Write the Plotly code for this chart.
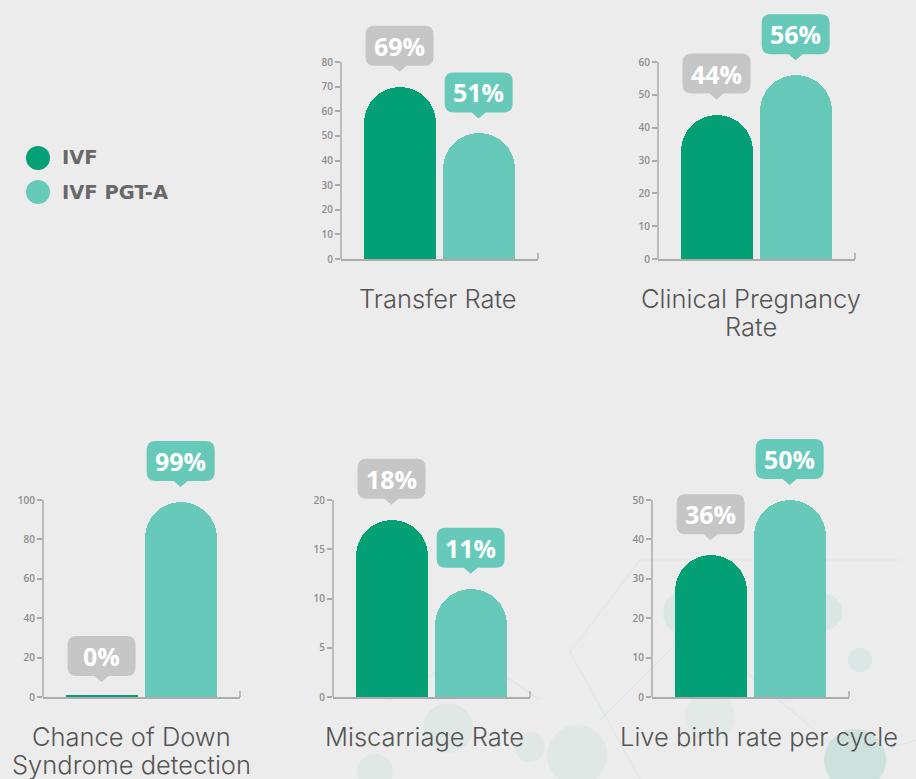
import plotly.graph_objects as go

# ---------------- data ----------------
series_names = ["IVF", "IVF PGT-A"]
panel_titles = ["Transfer Rate", "Clinical Pregnancy<br>Rate",
                "Chance of Down<br>Syndrome detection", "Miscarriage Rate",
                "Live birth rate per cycle"]
ivf_values = [70, 44, 0, 18, 36]
pgta_values = [51, 56, 99, 11, 50]
ivf_labels = ["69%", "44%", "0%", "18%", "36%"]
pgta_labels = ["51%", "56%", "99%", "11%", "50%"]
axis_max = [80, 60, 100, 20, 50]
axis_step = [10, 10, 20, 5, 10]

# ---------------- style ----------------
W, H = 916, 779
BG = "#ececec"
C_IVF = "#03a075"
C_PGT = "#67c9b9"
C_CALL_IVF = "#c6c6c6"
C_CALL_PGT = "#67c9b9"
AXC = "#ababab"
TITLE_FONT = dict(family="Inter, Open Sans, sans-serif", size=25.5, color="#555555", weight=300)

# panel pixel boxes: (x0, x1, ytop of axis, ybottom of axis)
boxes = [(341, 538, 62, 259), (658, 855, 62, 259),
         (43, 240, 500, 697), (333, 530, 500, 697), (652, 849, 500, 697)]
title_dx = [-2, -6, -10, -7, 8]  # title centre offset from panel centre (px)
HEADROOM = 62  # extra plot area above each axis so callouts are not clipped

fig = go.Figure()
layout = dict(width=W, height=H, autosize=False,
              margin=dict(l=0, r=0, t=0, b=0, pad=0, autoexpand=False),
              paper_bgcolor=BG, plot_bgcolor="rgba(0,0,0,0)",
              showlegend=False, bargap=0, barmode="group")
shapes, annots = [], []

# faint decorative background (network of circles and lines)
deco_circles = [(685, 613, 22, "rgba(195,224,218,0.45)"), (824, 612, 18, "rgba(195,224,218,0.45)"),
                (860, 660, 12, "rgba(200,225,220,0.5)"), (855, 760, 31, "rgba(185,220,212,0.6)"),
                (448, 728, 25, "rgba(210,228,224,0.45)"), (530, 747, 15, "rgba(210,228,224,0.45)"),
                (577, 755, 30, "rgba(210,228,224,0.45)"), (710, 717, 25, "rgba(214,230,226,0.4)"),
                (375, 772, 18, "rgba(210,228,224,0.45)")]
for cx, cy, r, col in deco_circles:
    shapes.append(dict(type="circle", xref="paper", yref="paper", layer="below",
                       x0=(cx - r) / W, x1=(cx + r) / W, y0=1 - (cy + r) / H, y1=1 - (cy - r) / H,
                       fillcolor=col, line=dict(width=0)))
deco_lines = [(570, 652, 640, 560), (640, 560, 900, 560), (570, 652, 640, 779),
              (740, 667, 850, 760), (850, 760, 916, 740), (600, 720, 680, 640),
              (390, 700, 470, 652), (470, 652, 540, 700)]
for x0, y0, x1, y1 in deco_lines:
    shapes.append(dict(type="line", xref="paper", yref="paper", layer="below",
                       x0=x0 / W, x1=x1 / W, y0=1 - y0 / H, y1=1 - y1 / H,
                       line=dict(color="rgba(200,224,219,0.4)", width=1.2)))

# callout path (pixels relative to the bar top, y up)
callout = ("M 0 15 L 7 21 L 25 21 Q 34 21 34 30 L 34 52 Q 34 61 25 61 "
           "L -25 61 Q -34 61 -34 52 L -34 30 Q -34 21 -25 21 L -7 21 Z")

for i, (bx0, bx1, ytop, ybot) in enumerate(boxes):
    n = "" if i == 0 else str(i + 1)
    xa, ya = "x" + n, "y" + n
    ymax = axis_max[i]
    vals = [ivf_values[i], pgta_values[i]]
    labels = [ivf_labels[i], pgta_labels[i]]
    shown = [max(v, ymax * 0.01) for v in vals]
    fig.add_trace(go.Bar(x=[0, 1], y=shown, xaxis=xa, yaxis=ya, width=0.91,
                         marker=dict(color=[C_IVF, C_PGT], cornerradius="50%", line=dict(width=0)),
                         name=panel_titles[i], hoverinfo="skip"))
    new_top = ytop - HEADROOM
    ext = (ybot - new_top) / (ybot - ytop)
    layout["xaxis" + n] = dict(domain=[bx0 / W, bx1 / W], range=[-0.74, 1.75],
                               anchor=ya, showgrid=False, zeroline=False,
                               showline=True, linecolor=AXC, linewidth=1.5,
                               showticklabels=False, ticks="", fixedrange=True)
    layout["yaxis" + n] = dict(domain=[1 - ybot / H, 1 - new_top / H], range=[0, ymax * ext],
                               anchor=xa, showgrid=False, zeroline=False, showline=False,
                               ticks="outside", ticklen=5, tickwidth=1.5, tickcolor=AXC,
                               tickmode="array",
                               tickvals=list(range(0, ymax + 1, axis_step[i])),
                               tickfont=dict(family="Open Sans", size=10, color="#8c8c8c", weight=600),
                               fixedrange=True)
    # y axis line from 0 to the top tick
    shapes.append(dict(type="line", xref=xa + " domain", yref=ya, x0=0, x1=0, y0=0, y1=ymax,
                       line=dict(color=AXC, width=1.5)))
    # end tick on x axis
    shapes.append(dict(type="line", xref=xa + " domain", yref=ya + " domain",
                       x0=1, x1=1, ysizemode="pixel", yanchor=0, y0=0, y1=6,
                       line=dict(color=AXC, width=1.5)))
    # callouts
    for j in range(2):
        col = C_CALL_IVF if j == 0 else C_CALL_PGT
        shapes.append(dict(type="path", xref=xa, yref=ya, xsizemode="pixel", ysizemode="pixel",
                           xanchor=j, yanchor=vals[j], path=callout,
                           fillcolor=col, line=dict(width=0)))
        annots.append(dict(x=j, y=vals[j], xref=xa, yref=ya, text="<b>" + labels[j] + "</b>",
                           showarrow=False, yshift=41, yanchor="middle",
                           font=dict(family="Open Sans", size=25, color="white")))
    # panel title (one annotation per line)
    cx = ((bx0 + bx1) / 2 + title_dx[i]) / W
    for k, line in enumerate(panel_titles[i].split("<br>")):
        annots.append(dict(x=cx, y=1 - (ybot + 39 + 28 * k) / H, xref="paper", yref="paper",
                           text=line, showarrow=False, xanchor="center", yanchor="middle",
                           font=TITLE_FONT))

# legend drawn at the top left
leg = [(158, C_IVF), (192, C_PGT)]
for (cy, col), name in zip(leg, series_names):
    shapes.append(dict(type="circle", xref="paper", yref="paper",
                       x0=26 / W, x1=50 / W, y0=1 - (cy + 12) / H, y1=1 - (cy - 12) / H,
                       fillcolor=col, line=dict(width=0)))
    annots.append(dict(x=60 / W, y=1 - cy / H, xref="paper", yref="paper",
                       text="<b>" + name + "</b>", showarrow=False, xanchor="left", yanchor="middle",
                       font=dict(family="DejaVu Sans", size=19.5, color="#686868")))

layout["shapes"] = shapes
layout["annotations"] = annots
fig.update_layout(**layout)
fig.write_html("out.html", config={"responsive": False, "displayModeBar": False},
               post_script="document.body.style.margin='0';")
